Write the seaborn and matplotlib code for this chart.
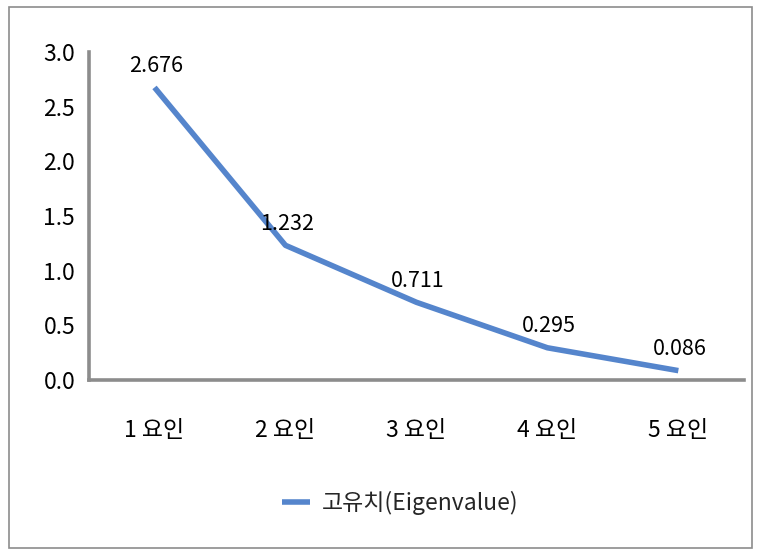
import matplotlib
matplotlib.use("Agg")
import matplotlib.pyplot as plt
import seaborn as sns
import pandas as pd
from matplotlib.patches import Rectangle

categories = ["1 요인", "2 요인", "3 요인", "4 요인", "5 요인"]
values = [2.676, 1.232, 0.711, 0.295, 0.086]
labels = ["2.676", "1.232", "0.711", "0.295", "0.086"]
series_name = "고유치(Eigenvalue)"
y_ticks = [0.0, 0.5, 1.0, 1.5, 2.0, 2.5, 3.0]

sns.set_theme(style="white")
plt.rcParams['font.family'] = ['Noto Sans CJK KR', 'DejaVu Sans']

df = pd.DataFrame({"cat": categories, "val": values})

fig = plt.figure(figsize=(7.59, 5.51), dpi=100)
ax = fig.add_axes([0.1173, 0.3103, 0.8627, 0.5953])

line_color = "#5585CC"
sns.lineplot(data=df, x="cat", y="val", ax=ax, color=line_color, linewidth=4.0,
             sort=False, label=series_name)
for ln in ax.get_lines():
    ln.set_solid_capstyle("butt")

FS = 16.5
ax.set_xlim(-0.5, 4.5)
ax.set_ylim(0, 3.0)
ax.set_yticks(y_ticks)
ax.set_yticklabels([f"{t:.1f}" for t in y_ticks], fontsize=FS)
ax.set_xlabel("")
ax.set_ylabel("")
for s in ["top", "right"]:
    ax.spines[s].set_visible(False)
for s in ["left", "bottom"]:
    ax.spines[s].set_color("#8C8C8C")
    ax.spines[s].set_linewidth(2.6)
ax.tick_params(axis="y", direction="inout", length=8, width=2.2, color="#8C8C8C",
               pad=6, labelcolor="black")
ax.tick_params(axis="x", length=0, pad=28, labelsize=FS, labelcolor="black")

for i, (v, lab) in enumerate(zip(values, labels)):
    ax.annotate(lab, (i, v), xytext=(1, 15.5), textcoords="offset points",
                ha="center", va="center", fontsize=FS - 1, color="black")

leg = ax.legend(loc="center", bbox_to_anchor=(400 / 759, 1 - 503 / 551),
                bbox_transform=fig.transFigure, frameon=False, fontsize=FS,
                handlelength=1.25, handletextpad=0.5)
for h in leg.get_lines():
    h.set_linewidth(4.0)
    h.set_solid_capstyle("butt")

fig.patches.append(Rectangle((9 / 759, 3 / 551), 743 / 759, 541 / 551,
                             transform=fig.transFigure, fill=False,
                             edgecolor="#8C8C8C", linewidth=1.2))

fig.savefig("out.png", dpi=100, facecolor="white")
